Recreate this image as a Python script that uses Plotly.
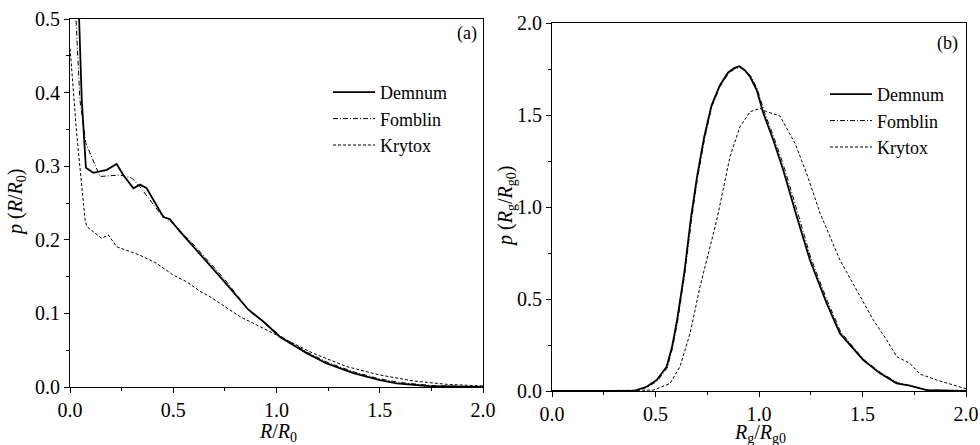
import plotly.graph_objects as go

# ---------------- data: panel (a) ----------------
a_dem_x = [0.03, 0.044, 0.057, 0.077, 0.113, 0.178, 0.226, 0.258, 0.307, 0.339, 0.371, 0.452, 0.484, 0.533,
           0.597, 0.742, 0.864, 0.936, 1.017, 1.146, 1.243, 1.372, 1.501, 1.582, 1.743, 2.0]
a_dem_y = [0.62, 0.5, 0.39, 0.298, 0.291, 0.295, 0.303, 0.288, 0.270, 0.275, 0.270, 0.231, 0.228, 0.211,
           0.191, 0.145, 0.105, 0.089, 0.068, 0.046, 0.032, 0.019, 0.0095, 0.005, 0.001, 0.0]

a_fom_x = [0.018, 0.029, 0.048, 0.077, 0.145, 0.242, 0.299, 0.339, 0.436, 0.5, 0.6, 0.75, 0.87, 0.95,
           1.02, 1.15, 1.25, 1.38, 1.5, 1.6, 1.75, 2.0]
a_fom_y = [0.62, 0.5, 0.39, 0.331, 0.286, 0.288, 0.284, 0.272, 0.236, 0.222, 0.193, 0.146, 0.103, 0.086,
           0.069, 0.047, 0.033, 0.020, 0.011, 0.006, 0.002, 0.0]

a_kry_x = [0.0, 0.005, 0.032, 0.057, 0.073, 0.081, 0.153, 0.186, 0.226, 0.339, 0.42, 0.50, 0.565, 0.63,
           0.678, 0.823, 0.92, 1.017, 1.178, 1.34, 1.501, 1.663, 1.824, 2.0]
a_kry_y = [0.46, 0.444, 0.345, 0.272, 0.227, 0.218, 0.202, 0.2065, 0.1906, 0.179, 0.168, 0.152, 0.143, 0.13,
           0.1227, 0.0956, 0.082, 0.0684, 0.0457, 0.0277, 0.0163, 0.0082, 0.0036, 0.0014]

# ---------------- data: panel (b) ----------------
b_dem_x = [0.0, 0.393, 0.457, 0.506, 0.554, 0.58, 0.605, 0.64, 0.67, 0.70, 0.735, 0.77, 0.81, 0.85,
           0.88, 0.905, 0.93, 0.957, 0.989, 1.021, 1.069, 1.117, 1.182, 1.246, 1.327, 1.391, 1.504,
           1.585, 1.665, 1.729, 1.81, 2.0]
b_dem_y = [0.0, 0.0, 0.023, 0.06, 0.132, 0.24, 0.39, 0.65, 0.93, 1.16, 1.38, 1.55, 1.66, 1.73,
           1.755, 1.765, 1.745, 1.708, 1.636, 1.509, 1.364, 1.201, 0.95, 0.712, 0.476, 0.313, 0.168,
           0.096, 0.042, 0.029, 0.005, 0.0]

b_fom_x = [0.0, 0.40, 0.46, 0.51, 0.556, 0.582, 0.607, 0.642, 0.672, 0.702, 0.737, 0.772, 0.812, 0.852,
           0.882, 0.907, 0.932, 0.96, 0.992, 1.025, 1.073, 1.122, 1.188, 1.25, 1.33, 1.395, 1.505,
           1.59, 1.67, 1.73, 1.81, 2.0]
b_fom_y = [0.0, 0.0, 0.02, 0.055, 0.125, 0.232, 0.38, 0.64, 0.915, 1.15, 1.37, 1.545, 1.655, 1.725,
           1.75, 1.758, 1.742, 1.712, 1.64, 1.52, 1.375, 1.215, 0.965, 0.725, 0.49, 0.32, 0.172,
           0.098, 0.045, 0.03, 0.006, 0.0]

b_kry_x = [0.0, 0.49, 0.57, 0.618, 0.667, 0.715, 0.796, 0.86, 0.908, 0.957, 1.005, 1.037, 1.101, 1.142,
           1.174, 1.23, 1.295, 1.391, 1.472, 1.552, 1.617, 1.665, 1.729, 1.778, 1.858, 1.987, 2.0]
b_kry_y = [0.0, 0.005, 0.04, 0.132, 0.313, 0.567, 0.929, 1.274, 1.436, 1.518, 1.536, 1.518, 1.495, 1.41,
           1.346, 1.183, 0.966, 0.712, 0.549, 0.386, 0.277, 0.187, 0.15, 0.092, 0.06, 0.015, 0.012]

names = ["Demnum", "Fomblin", "Krytox"]

FONT = "Liberation Serif"
styles = [dict(color="black", width=1.8, dash="solid"),
          dict(color="black", width=1, dash="5px,2px,1px,2px"),
          dict(color="black", width=1, dash="3px,2px")]

fig = go.Figure()
for name, xs, ys, st in zip(names, [a_dem_x, a_fom_x, a_kry_x], [a_dem_y, a_fom_y, a_kry_y], styles):
    fig.add_trace(go.Scatter(x=xs, y=ys, mode="lines", name=name, line=st,
                             xaxis="x", yaxis="y", legend="legend"))
for name, xs, ys, st in zip(names, [b_dem_x, b_fom_x, b_kry_x], [b_dem_y, b_fom_y, b_kry_y], styles):
    fig.add_trace(go.Scatter(x=xs, y=ys, mode="lines", name=name, line=st,
                             xaxis="x2", yaxis="y2", legend="legend2"))

W, H = 980, 445
ax_common = dict(showline=True, linecolor="black", linewidth=1.2, mirror=True,
                 ticks="outside", ticklen=5, tickwidth=1, tickcolor="black",
                 showgrid=False, zeroline=False,
                 tickfont=dict(family=FONT, size=20, color="black"),
                 automargin=False)
minor = dict(ticks="outside", ticklen=3, tickwidth=1, tickcolor="black", showgrid=False)

def ann(text, x, y, size=20, angle=0):
    return dict(text=text, x=x / W, y=1 - y / H, xref="paper", yref="paper", showarrow=False,
                xanchor="center", yanchor="middle", textangle=angle,
                font=dict(family=FONT, size=size, color="black"))

fig.update_layout(
    width=W, height=H,
    margin=dict(l=0, r=0, t=0, b=0),
    paper_bgcolor="white", plot_bgcolor="white",
    font=dict(family=FONT, color="black"),
    xaxis=dict(**ax_common, domain=[70 / W, 483 / W], range=[0, 2], dtick=0.5, tickformat=".1f",
               minor=dict(dtick=0.25, **minor), anchor="y"),
    yaxis=dict(**ax_common, domain=[1 - 387 / H, 1 - 19 / H], range=[0, 0.5], dtick=0.1, tickformat=".1f",
               minor=dict(dtick=0.05, **minor), anchor="x"),
    xaxis2=dict(**ax_common, domain=[552 / W, 966 / W], range=[0, 2], dtick=0.5, tickformat=".1f",
                minor=dict(dtick=0.25, **minor), anchor="y2"),
    yaxis2=dict(**ax_common, domain=[1 - 391 / H, 1 - 23 / H], range=[0, 2], dtick=0.5, tickformat=".1f",
                minor=dict(dtick=0.25, **minor), anchor="x2"),
    legend=dict(x=328 / W, y=1 - 74 / H, xanchor="left", yanchor="top",
                bgcolor="rgba(0,0,0,0)", font=dict(family=FONT, size=18, color="black"),
                tracegroupgap=0, itemwidth=42),
    legend2=dict(x=825 / W, y=1 - 76 / H, xanchor="left", yanchor="top",
                 bgcolor="rgba(0,0,0,0)", font=dict(family=FONT, size=18, color="black"),
                 tracegroupgap=0, itemwidth=42),
    annotations=[
        ann("(a)", 467, 33, 18),
        ann("(b)", 947, 43, 18),
        ann("<i>R</i>/<i>R</i><sub>0</sub>", 278, 432),
        ann("<i>R</i><sub>g</sub>/<i>R</i><sub>g0</sub>", 760, 433),
        ann("<i>p</i> (<i>R</i>/<i>R</i><sub>0</sub>)", 16, 203, 20, -90),
        ann("<i>p</i> (<i>R</i><sub>g</sub>/<i>R</i><sub>g0</sub>)", 506, 207, 20, -90),
    ],
)

fig.write_html("out.html", config={"displayModeBar": False},
               post_script="document.body.style.margin='0';document.body.style.overflow='hidden';")
